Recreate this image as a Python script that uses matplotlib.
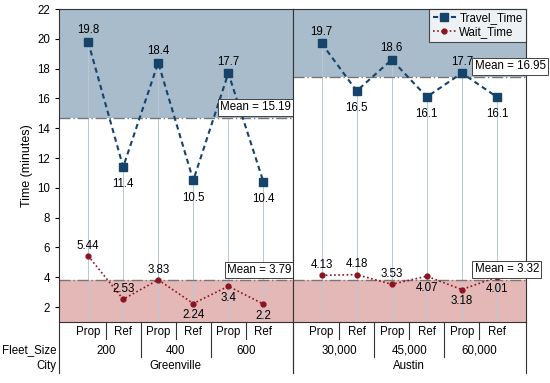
import matplotlib
matplotlib.use("Agg")
import matplotlib.pyplot as plt
import numpy as np

plt.rcParams["font.family"] = ["Liberation Sans", "DejaVu Sans"]
plt.rcParams["font.size"] = 8.3

# data
cities = ["Greenville", "Austin"]
fleet_sizes = [["200", "400", "600"], ["30,000", "45,000", "60,000"]]
modes = ["Prop", "Ref"]
travel_time = [[19.8, 11.4, 18.4, 10.5, 17.7, 10.4],
               [19.7, 16.5, 18.6, 16.1, 17.7, 16.1]]
wait_time = [[5.44, 2.53, 3.83, 2.24, 3.4, 2.2],
             [4.13, 4.18, 3.53, 4.07, 3.18, 4.01]]
travel_mean_text = ["15.19", "16.95"]
wait_mean_text = ["3.79", "3.32"]
wait_mean_line = [3.79, 3.82]
# label placement: 1 above, -1 below
travel_lbl = [[1, -1, 1, -1, 1, -1], [1, -1, 1, -1, 1, -1]]
wait_lbl = [[1, 1, 1, -1, -1, -1], [1, 1, 1, -1, -1, -1]]

BLUE = "#15436a"
RED = "#8c1422"
BLUE_FILL = "#a8bccc"
RED_FILL = "#e3b8b6"
GRID = "#b8c8d6"
FS = 8.3

fig = plt.figure(figsize=(5.5, 3.83), dpi=100)
L, R, B, T = 59 / 550, 526 / 550, 61 / 383, 374 / 383
axes = [fig.add_axes([L, B, (R - L) / 2, T - B]),
        fig.add_axes([L + (R - L) / 2, B, (R - L) / 2, T - B])]

ymin, ymax = 1, 22
for p, ax in enumerate(axes):
    x = np.arange(6)
    tt = travel_time[p]
    wt = wait_time[p]
    tmean = np.mean(tt)
    ax.set_xlim(-0.83, 5.83)
    ax.set_ylim(ymin, ymax)
    ax.axhspan(tmean, ymax, color=BLUE_FILL, lw=0, zorder=0)
    ax.axhspan(ymin, wait_mean_line[p], color=RED_FILL, lw=0, zorder=0)
    ax.vlines(x, ymin, tt, color=GRID, lw=0.7, zorder=1)
    ax.axhline(tmean, color="#777777", lw=1.0, ls=(0, (8, 2, 1, 2)), zorder=2)
    ax.axhline(wait_mean_line[p], color="#777777", lw=1.0, ls=(0, (8, 2, 1, 2)), zorder=2)
    ax.plot(x, tt, ls=(0, (2.5, 1.8)), color=BLUE, lw=1.5, marker="s", ms=5.5,
            label="Travel_Time", zorder=4)
    ax.plot(x, wt, ls=(0, (1, 1.5)), color=RED, lw=1.2, marker="o", ms=3.5,
            label="Wait_Time", zorder=4)
    for i in range(6):
        d = travel_lbl[p][i]
        ax.annotate(f"{tt[i]:g}", (x[i], tt[i]), xytext=(0, 4 if d > 0 else -8),
                    textcoords="offset points", ha="center",
                    va="bottom" if d > 0 else "top", fontsize=FS, zorder=5)
        d = wait_lbl[p][i]
        ax.annotate(f"{wt[i]:g}", (x[i], wt[i]), xytext=(0, 3 if d > 0 else -4),
                    textcoords="offset points", ha="center",
                    va="bottom" if d > 0 else "top", fontsize=FS, zorder=5)
    bbox = dict(boxstyle="square,pad=0.2", fc="white", ec="#444444", lw=0.7)
    if p == 0:
        bx, ha = 0.995, "right"
    else:
        bx, ha = 0.78, "left"
    ax.text(bx, tmean + 0.3, f"Mean = {travel_mean_text[p]}",
            transform=ax.get_yaxis_transform(), ha=ha, va="bottom",
            fontsize=FS, bbox=bbox, zorder=6, clip_on=False)
    ax.text(bx, wait_mean_line[p] + 0.3, f"Mean = {wait_mean_text[p]}",
            transform=ax.get_yaxis_transform(), ha=ha, va="bottom",
            fontsize=FS, bbox=bbox, zorder=6, clip_on=False)

    # multi-level x axis
    ax.set_xticks([])
    xt = ax.get_xaxis_transform()
    for i in range(6):
        ax.text(x[i], -0.014, modes[i % 2], transform=xt, ha="center", va="top", fontsize=FS)
    for g in range(3):
        ax.text(2 * g + 0.5, -0.072, fleet_sizes[p][g], transform=xt,
                ha="center", va="top", fontsize=FS)
    ax.text(2.5, -0.12, cities[p], transform=xt, ha="center", va="top", fontsize=FS)
    for s in [0.5, 2.5, 4.5]:
        ax.plot([s, s], [0, -0.054], transform=xt, color="#333333", lw=0.8, clip_on=False)
    for s in [1.5, 3.5]:
        ax.plot([s, s], [0, -0.112], transform=xt, color="#333333", lw=0.8, clip_on=False)
    for s in [-0.83, 5.83]:
        ax.plot([s, s], [0, -0.163], transform=xt, color="#333333", lw=0.8, clip_on=False)
    for sp in ax.spines.values():
        sp.set_color("#333333")
        sp.set_linewidth(0.8)

axes[0].set_yticks(np.arange(2, 23, 2))
axes[0].tick_params(axis="y", length=3, width=0.8, labelsize=FS)
axes[0].set_ylabel("Time (minutes)", fontsize=9, labelpad=3)
axes[1].set_yticks([])

xt0 = axes[0].get_xaxis_transform()
axes[0].text(-0.9, -0.072, "Fleet_Size", transform=xt0, ha="right", va="top", fontsize=FS)
axes[0].text(-0.9, -0.12, "City", transform=xt0, ha="right", va="top", fontsize=FS)

leg = axes[1].legend(loc="upper right", bbox_to_anchor=(1.0, 1.0), fontsize=FS,
                     frameon=True, fancybox=False, edgecolor="#222222",
                     handlelength=2.0, handletextpad=0.3, borderpad=0.3,
                     labelspacing=0.15, borderaxespad=0.0)
leg.get_frame().set_linewidth(0.8)

fig.savefig("out.png", dpi=100)
